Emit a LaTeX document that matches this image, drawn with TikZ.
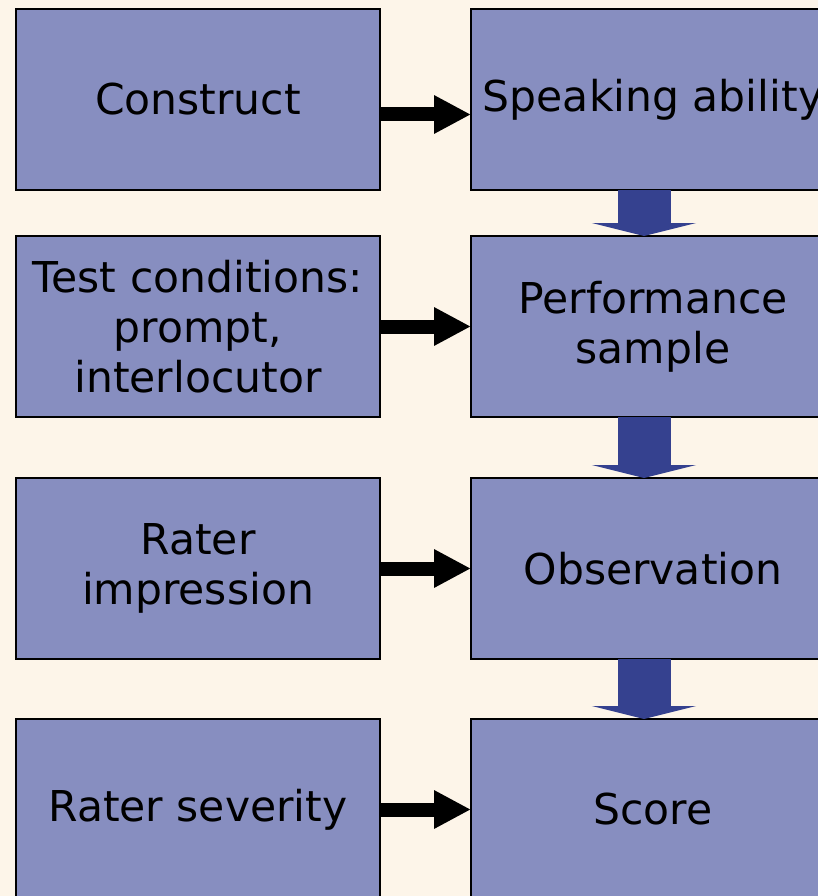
\documentclass[tikz,border=0pt]{standalone}
\usepackage{fontspec}
\setmainfont{DejaVu Sans}
\usetikzlibrary{positioning, arrows.meta}

\definecolor{paper}{HTML}{FDF5E9}
\definecolor{boxfill}{HTML}{878EC0}
\definecolor{flowblue}{HTML}{35418F}

\begin{document}
\begin{tikzpicture}[x=1pt,y=1pt,node distance=46pt and 91pt,
                    every node/.style={outer sep=0pt}]
  \tikzstyle{block}=[draw=black, line width=2pt, fill=boxfill,
                     minimum width=364pt, minimum height=181pt,
                     inner sep=0pt, align=center,
                     font=\fontsize{42.5}{50}\selectfont]
  \tikzstyle{feed}=[line width=14pt, -{Triangle[length=37pt,width=36pt]}]
  \tikzstyle{flow}=[flowblue, line width=53pt,
                    -{Triangle[length=13pt,width=104pt]}]

  \useasboundingbox (0,0) rectangle (818,-896);
  \clip (0,0) rectangle (818,-896);
  \fill[paper] (0,0) rectangle (818,-896);

  \node[block] (con)                        at (198,-99.5) {Construct};
  \node[block] (spk) [right=of con]         {Speaking ability};
  \node[block] (tst) [below=of con]         {Test conditions:\\prompt,\\interlocutor};
  \node[block] (prf) [right=of tst]         {Performance\\sample};
  \node[block] (imp) [below=61pt of tst]    {Rater\\impression};
  \node[block] (obs) [right=of imp]         {Observation};
  \node[block] (sev) [below=60pt of imp]    {Rater severity};
  \node[block] (scr) [right=of sev]         {Score};

  % side influences
  \draw[feed] ([yshift=-15pt]con.east) -- ([yshift=-15pt]spk.west);
  \draw[feed] (tst) -- (prf);
  \draw[feed] (imp) -- (obs);
  \draw[feed] (sev) -- (scr);

  % main chain
  \draw[flow] ([xshift=-9pt]spk.south) -- ([xshift=-9pt]prf.north);
  \draw[flow] ([xshift=-9pt]prf.south) -- ([xshift=-9pt]obs.north);
  \draw[flow] ([xshift=-9pt]obs.south) -- ([xshift=-9pt]scr.north);
\end{tikzpicture}
\end{document}
